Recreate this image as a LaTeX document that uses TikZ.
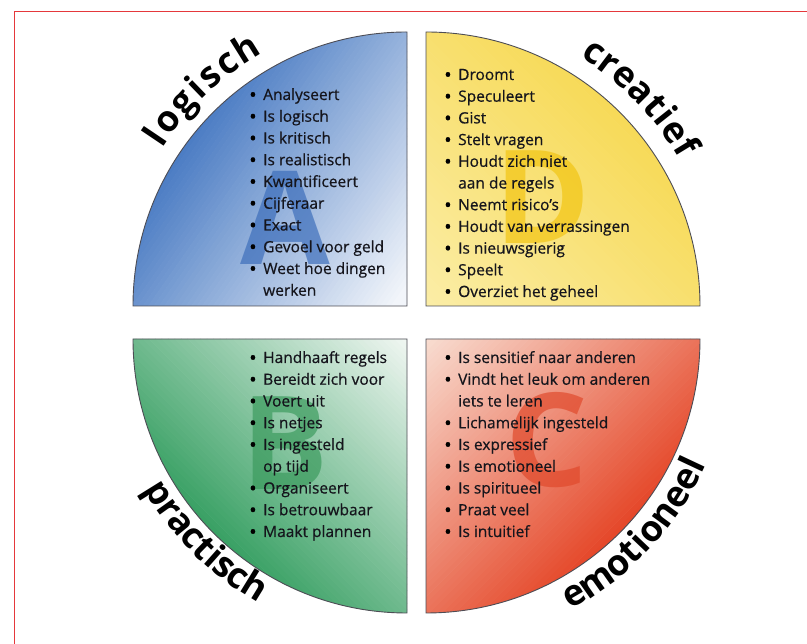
\documentclass[tikz,border=0pt]{standalone}
\usepackage{fontspec}
\setmainfont{Open Sans}
\definecolor{bluO}{HTML}{4C7DC4}
\definecolor{bluI}{HTML}{F2F5FA}
\definecolor{yelO}{HTML}{F7DA58}
\definecolor{yelI}{HTML}{FBEDA6}
\definecolor{grnO}{HTML}{3AA165}
\definecolor{grnI}{HTML}{EFF6F1}
\definecolor{redO}{HTML}{E5482A}
\definecolor{redI}{HTML}{F8DCD0}
\definecolor{frameR}{HTML}{E5383B}
\definecolor{txt}{HTML}{15151C}
\definecolor{edge}{HTML}{4D4D55}
\definecolor{Aco}{HTML}{3A6CBA}
\definecolor{Dco}{HTML}{F2C410}
\definecolor{Bco}{HTML}{3A9A5C}
\definecolor{Cco}{HTML}{E0482A}
\newcommand\bul{\llap{\raisebox{-1.8pt}{\fontsize{20}{20}\selectfont\color{black}•}\hspace{6.5pt}}}
% linear gradient: origin x, origin y, angle, length, outer colour, inner colour
\newcommand\lingrad[6]{%
  \begin{scope}[shift={(#1,#2)}, rotate=#3]
    \fill[#5] (-800,-800) rectangle (0.5,800);
    \foreach \k in {0,...,59}{
      \pgfmathsetmacro\pp{100*\k/59}
      \pgfmathsetmacro\xa{#4/60*\k}
      \pgfmathsetmacro\xb{#4/60*(\k+1)+0.5}
      \fill[#6!\pp!#5] (\xa,-800) rectangle (\xb,800);
    }
    \fill[#6] (#4,-800) rectangle (800,800);
  \end{scope}}
\begin{document}
\begin{tikzpicture}[x=1pt,y=1pt,
  quad/.style={draw=edge, line width=0.9pt},
  item/.style={anchor=base west, inner sep=0pt, font=\fontsize{15.5}{18}\selectfont\addfontfeatures{FakeBold=0.6}, text=txt},
  big/.style={inner sep=0pt, font=\fontsize{130}{130}\selectfont\bfseries, opacity=0.68},
  arcl/.style={anchor=base, inner sep=0pt, font=\fontsize{36}{36}\selectfont\bfseries, text=black}]
\useasboundingbox (0,0) rectangle (807,644);
\fill[white] (0,0) rectangle (807,644);
\draw[frameR, line width=1pt] (14,0) |- (807,632);

% top left (blue)
\begin{scope}
\clip (407,338) -- (133,338) arc[start angle=180,end angle=90,radius=274] -- cycle;
\lingrad{182.6}{495.3}{-35}{265}{bluO}{bluI}
\end{scope}
\draw[quad] (407,338) -- (133,338) arc[start angle=180,end angle=90,radius=274] -- cycle;

% top right (yellow)
\begin{scope}
\clip (426,338) -- (426,612) arc[start angle=90,end angle=0,radius=274] -- cycle;
\lingrad{619.7}{531.7}{225}{274}{yelO}{yelI}
\end{scope}
\draw[quad] (426,338) -- (426,612) arc[start angle=90,end angle=0,radius=274] -- cycle;

% bottom left (green)
\begin{scope}
\clip (407,305) -- (133,305) arc[start angle=180,end angle=270,radius=274] -- cycle;
\lingrad{213.3}{111.3}{45}{274}{grnO}{grnI}
\end{scope}
\draw[quad] (407,305) -- (133,305) arc[start angle=180,end angle=270,radius=274] -- cycle;

% bottom right (red)
\begin{scope}
\clip (426,305) -- (426,31) arc[start angle=270,end angle=360,radius=274] -- cycle;
\lingrad{619.7}{111.3}{135}{274}{redO}{redI}
\end{scope}
\draw[quad] (426,305) -- (426,31) arc[start angle=270,end angle=360,radius=274] -- cycle;

% big letters
\node[big, text=Aco] (bigA) at (285,426) {A};
\node[big, text=Dco] (bigD) at (543,447) {D};
\node[big, text=Bco] (bigB) at (285,201) {B};
\node[big, text=Cco] (bigC) at (547,204) {C};

% lists
\foreach \t [count=\i from 0] in {\bul Analyseert, \bul Is logisch, \bul Is kritisch, \bul Is realistisch, \bul Kwantificeert, \bul Cijferaar, \bul Exact, \bul Gevoel voor geld, \bul Weet hoe dingen, werken}
  \node[item] (tl\i) at (263,{544-21.75*\i}) {\t};
\foreach \t [count=\i from 0] in {\bul Droomt, \bul Speculeert, \bul Gist, \bul Stelt vragen, \bul Houdt zich niet, aan de regels, \bul Neemt risico's, \bul Houdt van verrassingen, \bul Is nieuwsgierig, \bul Speelt, \bul Overziet het geheel}
  \node[item] (tr\i) at (458,{564-21.7*\i}) {\t};
\foreach \t [count=\i from 0] in {\bul Handhaaft regels, \bul Bereidt zich voor, \bul Voert uit, \bul Is netjes, \bul Is ingesteld, op tijd, \bul Organiseert, \bul Is betrouwbaar, \bul Maakt plannen}
  \node[item] (bl\i) at (263,{281-21.75*\i}) {\t};
\foreach \t [count=\i from 0] in {\bul Is sensitief naar anderen, \bul Vindt het leuk om anderen, iets te leren, \bul Lichamelijk ingesteld, \bul Is expressief, \bul Is emotioneel, \bul Is spiritueel, \bul Praat veel, \bul Is intuitief}
  \node[item] (br\i) at (458,{281-21.75*\i}) {\t};

% curved labels
\begin{scope}[shift={(407,338)}]
\foreach \ch/\a [count=\n] in {l/146.1,o/142.3,g/137.7,i/134.0,s/130.6,c/126.5,h/122.0}
  \node[arcl, rotate=\a-90] (labL\n) at (\a:291) {\ch};
\end{scope}
\begin{scope}[shift={(426,338)}]
\foreach \ch/\a [count=\n] in {c/56.4,r/53.0,e/49.2,a/44.9,t/41.2,i/38.4,e/35.0,f/31.4}
  \node[arcl, rotate=\a-90] (labC\n) at (\a:293) {\ch};
\end{scope}
\begin{scope}[shift={(407,305)}]
\foreach \ch/\a [count=\n] in {p/211.9,r/215.6,a/219.1,c/222.7,t/225.9,i/228.5,s/231.2,c/234.6,h/238.4}
  \node[arcl, rotate=\a+90] (labP\n) at (\a:303) {\ch};
\end{scope}
\begin{scope}[shift={(426,305)}]
\foreach \ch/\a [count=\n] in {e/300.1,m/305.1,o/310.3,t/313.8,i/316.4,o/319.5,n/323.7,e/327.8,e/331.8,l/334.8}
  \node[arcl, rotate=\a+90] (labE\n) at (\a:307) {\ch};
\end{scope}
\end{tikzpicture}
\end{document}
